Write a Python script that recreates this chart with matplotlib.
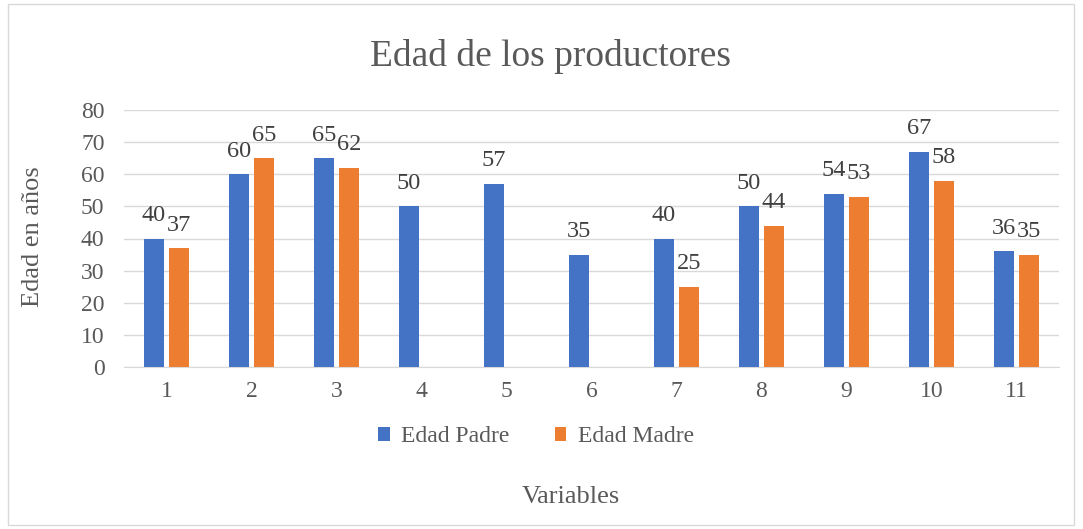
import matplotlib.pyplot as plt
import matplotlib.patches as mpatches
import numpy as np

categorias = ['1', '2', '3', '4', '5', '6', '7', '8', '9', '10', '11']
edad_padre = [40, 60, 65, 50, 57, 35, 40, 50, 54, 67, 36]
edad_madre = [37, 65, 62, None, None, None, 25, 44, 53, 58, 35]

plt.rcParams['font.family'] = ['Liberation Serif', 'DejaVu Serif']
gris = '#595959'

fig = plt.figure(figsize=(10.83, 5.29), dpi=100)
# borde del grafico
fig.patches.append(mpatches.Rectangle((8 / 1083, 4 / 529), 1066 / 1083, 521 / 529,
                                      transform=fig.transFigure, fill=False,
                                      edgecolor='#d9d9d9', linewidth=1))

ax = fig.add_axes([124 / 1083, 1 - 367 / 529, 935 / 1083, 257 / 529])

x = np.arange(len(categorias))
w = 0.224
off = 0.147
padre_x = x - off
madre_idx = [i for i, v in enumerate(edad_madre) if v is not None]
madre_vals = [edad_madre[i] for i in madre_idx]

b1 = ax.bar(padre_x, edad_padre, w, color='#4472c4', label='Edad Padre', zorder=3)
b2 = ax.bar(x[madre_idx] + off, madre_vals, w, color='#ed7d31', label='Edad Madre', zorder=3)

ax.bar_label(b1, padding=9, fontsize=17.5, color='#404040')
ax.bar_label(b2, padding=9, fontsize=17.5, color='#404040')

ax.set_xlim(-0.5, len(categorias) - 0.5)
ax.set_ylim(0, 80)
ax.set_yticks(range(0, 81, 10))
ax.set_xticks(x)
ax.set_xticklabels(categorias)
ax.yaxis.grid(True, color='#d9d9d9', linewidth=1, zorder=0)
ax.tick_params(axis='both', length=0, labelsize=17, colors=gris)
ax.tick_params(axis='x', pad=10)
ax.tick_params(axis='y', pad=14)
for s in ['top', 'right', 'left']:
    ax.spines[s].set_visible(False)
ax.spines['bottom'].set_color('#d9d9d9')

fig.text(33 / 1083, 1 - 237 / 529, 'Edad en años', fontsize=19, color=gris,
         rotation=90, ha='center', va='center')
fig.text(551 / 1083, 1 - 57 / 529, 'Edad de los productores', fontsize=27,
         color=gris, ha='center', va='center')
fig.text(571 / 1083, 1 - 497 / 529, 'Variables', fontsize=19, color=gris,
         ha='center', va='center')

fig.legend(handles=[b1, b2], loc='center', bbox_to_anchor=(536 / 1083, 1 - 437 / 529),
           ncol=2, frameon=False, fontsize=17, labelcolor=gris,
           handlelength=0.5, handleheight=0.5, columnspacing=1.9, handletextpad=0.5)

plt.savefig('out.png', dpi=100)
